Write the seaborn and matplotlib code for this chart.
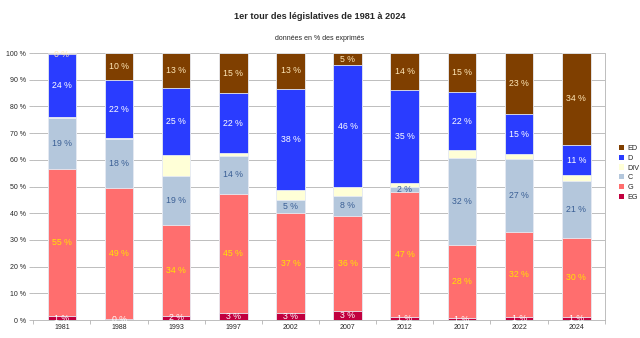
import numpy as np
import pandas as pd
import matplotlib
matplotlib.use("Agg")
import matplotlib.pyplot as plt
import seaborn as sns
from matplotlib.patches import Patch

years = ["1981", "1988", "1993", "1997", "2002", "2007", "2012", "2017", "2022", "2024"]
EG  = [1.4, 0.4, 1.7, 2.6, 2.7, 3.4, 1.2, 0.8, 1.2, 1.2]
G   = [55.1, 49.2, 33.8, 44.6, 37.3, 35.6, 46.6, 27.5, 31.9, 29.6]
C   = [19.2, 18.4, 18.6, 14.3, 5.0, 7.6, 2.0, 32.3, 27.1, 21.4]
DIV = [0.3, 0.1, 7.7, 1.2, 3.7, 3.2, 1.7, 3.1, 1.9, 2.1]
D   = [23.8, 21.9, 25.3, 22.2, 37.9, 45.6, 34.8, 21.6, 14.9, 11.3]
ED  = [0.2, 10.0, 12.9, 15.1, 13.4, 4.6, 13.7, 14.7, 23.0, 34.4]

series_names = ["EG", "G", "C", "DIV", "D", "ED"]
series_vals = [EG, G, C, DIV, D, ED]
colors = {"EG": "#C1003F", "G": "#FF6E6E", "C": "#B4C7DC", "DIV": "#FFFFD7",
          "D": "#2A3CFF", "ED": "#7F3F00"}
label_colors = {"EG": "#FFFFFF", "G": "#FFE500", "C": "#3A5F95", "DIV": None,
                "D": "#FFFFFF", "ED": "#FFE8B8"}

sns.set_theme(style="white")
plt.rcParams['font.family'] = ['Liberation Sans', 'DejaVu Sans']

fig = plt.figure(figsize=(6.4, 3.38), dpi=100)
ax = fig.add_axes([0.052, 0.053, 0.893, 0.79])

vals = np.array(series_vals)
cum = np.cumsum(vals, axis=0)

# draw from top layer down so lower layers overlay
for i in range(len(series_names) - 1, -1, -1):
    name = series_names[i]
    df = pd.DataFrame({"year": years, "val": cum[i]})
    sns.barplot(data=df, x="year", y="val", color=colors[name], width=0.5,
                saturation=1, edgecolor="#E8ECF4", linewidth=0.6, ax=ax, zorder=3)

# labels
for i, name in enumerate(series_names):
    if label_colors[name] is None:
        continue
    for j in range(len(years)):
        bottom = cum[i][j] - vals[i][j]
        center = bottom + vals[i][j] / 2
        if name == "ED" and vals[i][j] < 1:
            center = 99.5
        ax.text(j, center, f"{vals[i][j]:.0f} %", ha="center", va="center",
                fontsize=6.3, color=label_colors[name], zorder=5)

ax.set_ylim(0, 100)
ax.set_xlim(-0.5, len(years) - 0.5)
ax.set_yticks(np.arange(0, 101, 10))
ax.set_yticklabels([f"{v} %" for v in range(0, 101, 10)], fontsize=5)
ax.tick_params(axis="x", labelsize=5, length=0, pad=3)
ax.tick_params(axis="y", length=3, width=0.6, color="#B3B3B3", pad=2, left=True)
ax.set_xticks(np.arange(-0.5, len(years)), minor=True)
ax.tick_params(axis="x", which="minor", length=3, width=0.6, color="#B3B3B3", bottom=True)
ax.set_xlabel("")
ax.set_ylabel("")
ax.yaxis.grid(True, color="#B3B3B3", linewidth=0.6, zorder=0)
ax.set_axisbelow(True)
for sp in ["top", "left"]:
    ax.spines[sp].set_visible(False)
for sp in ["right", "bottom"]:
    ax.spines[sp].set_visible(True)
    ax.spines[sp].set_color("#B3B3B3")
    ax.spines[sp].set_linewidth(0.6)

fig.text(0.5, 0.951, "1er tour des législatives de 1981 à 2024", ha="center", va="center",
         fontsize=6.6, fontweight="bold")
fig.text(0.5, 0.887, "données en % des exprimés", ha="center", va="center", fontsize=5)

handles = [Patch(facecolor=colors[n], edgecolor="none", label=n) for n in reversed(series_names)]
leg = fig.legend(handles=handles, loc="upper left", bbox_to_anchor=(0.962, 0.583),
                 frameon=False, fontsize=5.2, handlelength=0.7, handleheight=0.7,
                 handletextpad=0.4, labelspacing=0.4, borderpad=0)

fig.savefig("out.png", dpi=100)
